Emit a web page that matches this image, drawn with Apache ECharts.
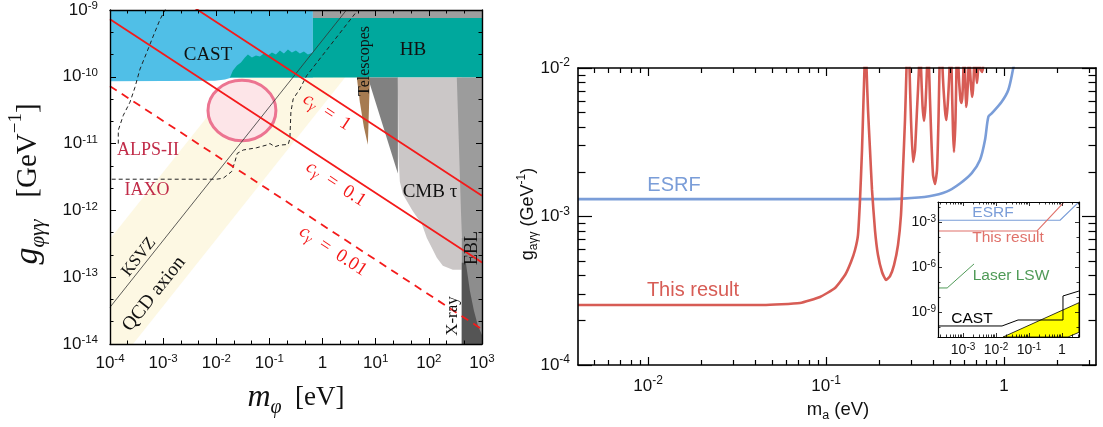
<!DOCTYPE html>
<html>
<head>
<meta charset="utf-8">
<title>Photon coupling limits</title>
<script src="https://cdn.jsdelivr.net/npm/echarts@6.0.0/dist/echarts.min.js"></script>
<style>
  html, body { margin: 0; padding: 0; background: #ffffff; }
  #chart { width: 1103px; height: 427px; }
</style>
</head>
<body>
<div id="chart"></div>
<script>
// ---------- Left panel: values are log10 exponents [log10(m/eV), log10(g/GeV^-1)] ----------
const leftMassTicks = [-4, -3, -2, -1, 0, 1, 2, 3];
const leftCouplingTicks = [-14, -13, -12, -11, -10, -9];

const qcdBand = [[-4, -14], [-3.567, -14], [1.433, -9], [-0.57, -9], [-4, -12.43]];
const ksvzLine = [[-4, -13.45], [0.45, -9]];
const castRegion = [[-4, -9], [-0.182, -9], [-0.182, -10.009], [-1.705, -10.009], [-1.837, -10.039], [-2.025, -10.061], [-4, -10.068]];
const hbRegion = [[-1.743, -10.009], [-1.687, -9.905], [-1.611, -9.831], [-1.536, -9.786], [-1.461, -9.712], [-1.405, -9.668],
  [-1.329, -9.712], [-1.254, -9.682], [-1.179, -9.697], [-1.104, -9.653], [-1.028, -9.682], [-0.953, -9.638], [-0.878, -9.668],
  [-0.803, -9.608], [-0.727, -9.653], [-0.652, -9.593], [-0.577, -9.638], [-0.502, -9.608], [-0.427, -9.653], [-0.351, -9.623],
  [-0.276, -9.668], [-0.182, -9.638], [-0.182, -9.119], [3, -9.119], [3, -10.009]];
const upperGrayRegion = [[-0.182, -9], [3, -9], [3, -9.119], [-0.182, -9.119]];
const telescopeRegion = [[0.645, -10.009], [0.89, -10.009], [0.871, -10.528], [0.852, -11.018], [0.777, -10.751], [0.702, -10.38]];
const darkWedgeRegion = [[0.852, -10.009], [1.417, -10.009], [1.417, -11.448]];
const cmbRegion = [[1.417, -10.009], [2.62, -10.009], [2.62, -12.887], [2.451, -12.887], [2.263, -12.828], [2.15, -12.709],
  [2.056, -12.561], [1.962, -12.412], [1.868, -12.205], [1.699, -12.012], [1.511, -11.76], [1.454, -11.567], [1.43, -11.2]];
const edgeStripRegion = [[2.526, -10.009], [3, -10.009], [3, -14], [2.62, -14], [2.62, -12.412]];
const eblRegion = [[2.62, -12.412], [3, -12.412], [3, -14], [2.62, -14]];
const xrayRegion = [[2.62, -12.783], [2.696, -12.783], [2.771, -13.199], [2.846, -13.496], [2.921, -13.718], [3, -13.866], [3, -14], [2.62, -14]];
const alpsCurve = [[-3.844, -11.0], [-3.844, -10.8], [-3.75, -10.577], [-3.624, -10.38], [-3.53, -10.157], [-3.436, -9.886],
  [-3.31, -9.638], [-3.186, -9.39], [-3.06, -9.144], [-2.95, -8.98]];
const iaxoCurve = [[-3.968, -11.533], [-1.993, -11.533], [-1.869, -11.518], [-1.711, -11.418], [-1.649, -11.27], [-1.606, -11.147],
  [-1.493, -11.096], [-1.241, -11.062], [-1.053, -11.022], [-0.991, -10.999], [-0.897, -11.047], [-0.803, -11.022], [-0.647, -11.013],
  [-0.615, -10.924], [-0.596, -10.528], [-0.553, -10.331], [-0.427, -10.183], [-0.3, -9.984], [0.664, -9.0]];
const cGammaOne = [[-4, -8.14], [3, -11.78]];
const cGammaTenth = [[-4, -9.14], [3, -12.78]];
const cGammaHundredth = [[-4, -10.14], [3, -13.78]];
const circleCenter = [-1.517, -10.506];
const circleRadius = [0.639, 0.4525];

// ---------- Right panel: values [m (eV), g (GeV^-1)] ----------
const rightMassTicks = [-2, -1, 0];
const rightCouplingTicks = [-4, -3, -2];
const esrfLimit = [[0.00404, 1.31e-3], [0.2, 1.31e-3], [0.27, 1.32e-3], [0.38, 1.37e-3], [0.476, 1.47e-3], [0.566, 1.67e-3],
  [0.659, 1.96e-3], [0.733, 2.40e-3], [0.782, 3.27e-3], [0.817, 4.70e-3], [0.853, 4.95e-3], [0.971, 5.93e-3],
  [1.057, 7.11e-3], [1.128, 1.0e-2], [1.2, 1.4e-2]];
const thisResult = [[0.00404, 2.535e-4], [0.0196, 2.535e-4], [0.0443, 2.535e-4], [0.0714, 2.615e-4], [0.0925, 2.87e-4],
  [0.1123, 3.30e-4], [0.1279, 4.035e-4], [0.1381, 4.94e-4], [0.1455, 5.95e-4], [0.1512, 7.50e-4], [0.1552, 1.29e-3],
  [0.1593, 2.80e-3], [0.1624, 6.09e-3], [0.1645, 1.0e-2], [0.1667, 3e-2], [0.1689, 1.0e-2], [0.1722, 5.21e-3],
  [0.1767, 2.80e-3], [0.1813, 1.51e-3], [0.1884, 8.11e-4], [0.1959, 5.50e-4], [0.2064, 4.23e-4], [0.2174, 3.735e-4],
  [0.2289, 3.97e-4], [0.2410, 4.71e-4], [0.2538, 6.43e-4], [0.2637, 1.02e-3], [0.2707, 2.06e-3], [0.2778, 4.46e-3],
  [0.2833, 1e-2], [0.2888, 3e-2], [0.2945, 1e-2], [0.3003, 4.46e-3], [0.3082, 2.33e-3], [0.3162, 2.80e-3], [0.3245, 5.21e-3],
  [0.3330, 1e-2], [0.3374, 3e-2], [0.3418, 1e-2], [0.3484, 5.63e-3], [0.3553, 4.40e-3], [0.3622, 5.63e-3], [0.3693, 1e-2],
  [0.3741, 3e-2], [0.3791, 1e-2], [0.3890, 3.82e-3], [0.3992, 1.90e-3], [0.4097, 1.655e-3], [0.4204, 2.06e-3],
  [0.4285, 4.46e-3], [0.4341, 1e-2], [0.4427, 3e-2], [0.4514, 1e-2], [0.4661, 5.21e-3], [0.4753, 4.46e-3],
  [0.4846, 6.09e-3], [0.4941, 1e-2], [0.5005, 3e-2], [0.5071, 1e-2], [0.5169, 3.82e-3], [0.5236, 2.72e-3],
  [0.5339, 4.46e-3], [0.5408, 1e-2], [0.5479, 3e-2], [0.5550, 1e-2], [0.5695, 6.09e-3], [0.5769, 5.81e-3],
  [0.5844, 6.58e-3], [0.5920, 1e-2], [0.5998, 3e-2], [0.6036, 1e-2], [0.6115, 5.46e-3], [0.6193, 6.09e-3],
  [0.6315, 1e-2], [0.6356, 3e-2], [0.6441, 1e-2], [0.6609, 6.38e-3], [0.6695, 7.11e-3], [0.6784, 1e-2], [0.6871, 3e-2],
  [0.6961, 1e-2], [0.7051, 7.93e-3], [0.7143, 1e-2], [0.7238, 3e-2], [0.7330, 1e-2], [0.7522, 9.4e-3], [0.7620, 1e-2],
  [0.7720, 3e-2]];

// ---------- Inset: values [m (eV), g (GeV^-1)] ----------
const insetMassTicks = [-3, -2, -1, 0];
const insetCouplingTicks = [-9, -6, -3];
const insetEsrf = [[1.74e-4, 1.31e-3], [0.87, 1.31e-3], [3.27, 2.2e-2]];
const insetResult = [[1.74e-4, 2.53e-4], [0.175, 2.53e-4], [1.15, 2.15e-2]];
const insetLaserLsw = [[1.74e-4, 4e-8], [3.3e-4, 4e-8], [2.15e-3, 1.6e-6]];
const insetCast = [[1.74e-4, 1.17e-10], [0.0152, 1.17e-10], [0.0464, 2.93e-10], [1.07, 2.93e-10], [1.07, 1.17e-8], [3.27, 2.5e-8]];
const insetAxionBand = [[0.0163, 2.15e-11], [3.27, 4.17e-9], [3.27, 4.43e-11], [1.52, 2.15e-11]];

// ---------- helpers ----------
const serif = "'Liberation Serif','DejaVu Serif',serif";
const sans = "'Liberation Sans','DejaVu Sans',sans-serif";
const toLog = pts => pts.map(([m, g]) => [Math.log10(m), Math.log10(g)]);

function thirds(lo, hi) {
  const out = [];
  for (let d = Math.floor(lo); d < hi; d++) [1 / 3, 2 / 3].forEach(f => { const v = d + f; if (v > lo && v < hi) out.push(v); });
  return out;
}
function logMinor(lo, hi) {
  const out = [];
  for (let d = Math.floor(lo); d < hi; d++) for (let k = 2; k < 10; k++) { const v = d + Math.log10(k); if (v > lo && v < hi) out.push(v); }
  return out;
}
function otherDecades(lo, hi, majors) {
  const out = [];
  for (let d = Math.ceil(lo); d <= hi; d++) if (majors.indexOf(d) < 0) out.push(d);
  return out;
}
const powLabel = v => (v === 0 ? '{b|1}' : '{b|10}{s|' + v + '}');

// four axes per dimension: labelled major + minor on the main side, major + minor mirrored
function axisSet(grid, min, max, majors, minors, o) {
  const list = [];
  o.pos.forEach((p, i) => {
    list.push({
      type: 'value', gridIndex: grid, position: p, min, max, z: 10,
      axisLine: { show: true, onZero: false, lineStyle: { color: '#000', width: o.lineWidth } },
      axisTick: { show: true, inside: true, length: o.majorLen, customValues: majors, lineStyle: { color: '#000', width: o.tickWidth } },
      axisLabel: i === 0 ? {
        show: true, customValues: majors, formatter: powLabel, margin: o.margin,
        showMinLabel: true, showMaxLabel: true, rich: o.rich
      } : { show: false },
      splitLine: { show: false }
    });
    list.push({
      type: 'value', gridIndex: grid, position: p, min, max, z: 10,
      axisLine: { show: false, onZero: false },
      axisTick: { show: true, inside: true, length: o.minorLen, customValues: minors, lineStyle: { color: '#000', width: o.tickWidth } },
      axisLabel: { show: false },
      splitLine: { show: false }
    });
  });
  return list;
}

const richLeft = {
  b: { fontFamily: sans, fontSize: 17, lineHeight: 20, color: '#111' },
  s: { fontFamily: sans, fontSize: 11.5, lineHeight: 8, verticalAlign: 'top', color: '#111' }
};
const richRight = {
  b: { fontFamily: sans, fontSize: 17, lineHeight: 22, color: '#111' },
  s: { fontFamily: sans, fontSize: 12, lineHeight: 9, verticalAlign: 'top', color: '#111' }
};
const richInset = {
  b: { fontFamily: sans, fontSize: 14, lineHeight: 16, color: '#111' },
  s: { fontFamily: sans, fontSize: 10, lineHeight: 7, verticalAlign: 'top', color: '#111' }
};

// ranges
const LX = [-4, 3], LY = [-14, -9];
const RX = [Math.log10(0.00404), 0.517], RY = [-4, -2];
const IX = [-3.76, 0.515], IY = [-10.667, -1.667];

const xAxes = [].concat(
  axisSet(0, LX[0], LX[1], leftMassTicks, thirds(LX[0], LX[1]), { pos: ['bottom', 'top'], lineWidth: 1.4, tickWidth: 1, majorLen: 6, minorLen: 3.5, margin: 9, rich: richLeft }),
  axisSet(1, RX[0], RX[1], rightMassTicks, logMinor(RX[0], RX[1]), { pos: ['bottom', 'top'], lineWidth: 1.6, tickWidth: 1.2, majorLen: 8, minorLen: 5, margin: 10, rich: richRight }),
  axisSet(2, IX[0], IX[1], insetMassTicks, logMinor(IX[0], IX[1]), { pos: ['bottom', 'top'], lineWidth: 1.2, tickWidth: 0.8, majorLen: 4, minorLen: 2.5, margin: 5, rich: richInset })
);
const yAxes = [].concat(
  axisSet(0, LY[0], LY[1], leftCouplingTicks, thirds(LY[0], LY[1]), { pos: ['left', 'right'], lineWidth: 1.4, tickWidth: 1, majorLen: 6, minorLen: 3.5, margin: 12, rich: richLeft }),
  axisSet(1, RY[0], RY[1], rightCouplingTicks, logMinor(RY[0], RY[1]), { pos: ['left', 'right'], lineWidth: 1.6, tickWidth: 1.2, majorLen: 14, minorLen: 7.5, margin: 8, rich: richRight }),
  axisSet(2, IY[0], IY[1], insetCouplingTicks, otherDecades(IY[0], IY[1], insetCouplingTicks), { pos: ['left', 'right'], lineWidth: 1.2, tickWidth: 0.8, majorLen: 4, minorLen: 2.5, margin: 2, rich: richInset })
);

const L = { x: 0, y: 0 }, R = { x: 4, y: 4 }, I = { x: 8, y: 8 };

function area(panel, pts, fill, stroke, strokeWidth, z) {
  return {
    type: 'custom', xAxisIndex: panel.x, yAxisIndex: panel.y, silent: true, clip: true, z: z || 2,
    data: [pts[0]],
    renderItem: (p, api) => ({
      type: 'polygon',
      shape: { points: pts.map(q => api.coord(q)) },
      style: { fill, stroke: stroke || null, lineWidth: strokeWidth || 0 }
    })
  };
}
function curve(panel, pts, color, width, dash, smooth, z) {
  return {
    type: 'line', xAxisIndex: panel.x, yAxisIndex: panel.y, data: pts, symbol: 'none', showSymbol: false,
    silent: true, clip: true, smooth: smooth || false, z: z || 2,
    lineStyle: { color, width, type: dash || 'solid', cap: 'butt' }
  };
}

const series = [
  // left panel, back to front
  area(L, qcdBand, '#fdf8e3'),
  {
    type: 'custom', xAxisIndex: 0, yAxisIndex: 0, silent: true,
    data: [circleCenter],
    renderItem: (p, api) => {
      const c = api.coord([api.value(0), api.value(1)]);
      const s = api.size(circleRadius);
      return { type: 'ellipse', shape: { cx: c[0], cy: c[1], rx: s[0], ry: s[1] },
        style: { fill: '#fde5e8', stroke: '#ec7491', lineWidth: 3 } };
    }
  },
  area(L, castRegion, '#50bfe7'),
  area(L, hbRegion, '#00a89d'),
  area(L, upperGrayRegion, '#9e9e9e'),
  area(L, darkWedgeRegion, '#818181'),
  area(L, cmbRegion, '#cbc7c7'),
  area(L, edgeStripRegion, '#9c9c9c'),
  area(L, eblRegion, '#8d8d8d'),
  area(L, xrayRegion, '#555555'),
  area(L, telescopeRegion, '#a67b51'),
  curve(L, ksvzLine, '#333333', 0.8),
  curve(L, alpsCurve, '#222222', 1, [4, 3]),
  curve(L, iaxoCurve, '#222222', 1, [4, 3]),
  curve(L, cGammaOne, '#f41a1a', 1.8),
  curve(L, cGammaTenth, '#f41a1a', 1.8),
  curve(L, cGammaHundredth, '#f41a1a', 1.8, [8, 6]),
  // right panel
  curve(R, toLog(esrfLimit), '#7a9dd8', 2.6, null, 0.3),
  curve(R, toLog(thisResult), '#d75c55', 2.6, null, 0.15),
  // inset
  area(I, toLog(insetAxionBand), '#ffff00', '#000', 0.8, 4),
  curve(I, toLog(insetEsrf), '#7a9dd8', 1.1, null, false, 4),
  curve(I, toLog(insetResult), '#e0716a', 1.1, null, false, 4),
  curve(I, toLog(insetLaserLsw), '#4f9a57', 1.0, null, false, 4),
  curve(I, toLog(insetCast), '#000000', 1.0, null, false, 4)
];

function text(x, y, content, font, fill, rotDeg, rich) {
  return {
    type: 'text', x, y, rotation: (rotDeg || 0) * Math.PI / 180, z: 60, silent: true,
    style: { text: content, font, fill, align: 'center', verticalAlign: 'middle',
      textAlign: 'center', textVerticalAlign: 'middle', rich: rich || undefined }
  };
}

const redC = '#f41a1a';
const cRich = {
  c: { fontFamily: serif, fontStyle: 'italic', fontSize: 19, lineHeight: 22, fill: redC, color: redC },
  s: { fontFamily: serif, fontStyle: 'italic', fontSize: 14, lineHeight: 12, verticalAlign: 'bottom', fill: redC, color: redC },
  n: { fontFamily: serif, fontSize: 19, lineHeight: 22, fill: redC, color: redC }
};
const slope = -33.4;

const graphics = [
  text(208, 55, 'CAST', '19px ' + serif, '#111'),
  text(413, 50, 'HB', '19px ' + serif, '#111'),
  text(365, 61, 'Telescopes', '16px ' + serif, '#111', 90),
  text(430, 192, 'CMB τ', '19px ' + serif, '#111'),
  text(472, 248, 'EBL', '18px ' + serif, '#111', 90),
  text(453, 316, 'X-ray', '17px ' + serif, '#111', 90),
  text(148, 150, 'ALPS-II', '18px ' + serif, '#c12b48'),
  text(147, 190, 'IAXO', '18px ' + serif, '#c12b48'),
  text(139, 257, 'KSVZ', '17px ' + serif, '#111', 51.7),
  text(154, 294, 'QCD axion', '19.5px ' + serif, '#111', 51.7),
  text(327, 112, '{c|c}{s|γ}{n|  =  1}', '19px ' + serif, redC, slope, cRich),
  text(336, 184, '{c|c}{s|γ}{n|  =  0.1}', '19px ' + serif, redC, slope, cRich),
  text(333, 251, '{c|c}{s|γ}{n|  =  0.01}', '19px ' + serif, redC, slope, cRich),
  // left axis titles
  text(28, 184, '{g|g}{sub|φγγ}{n|   [GeV}{sup|−1}{n|]}', '28px ' + serif, '#111', 90, {
    g: { fontFamily: serif, fontStyle: 'italic', fontSize: 34, lineHeight: 42, fill: '#111' },
    sub: { fontFamily: serif, fontStyle: 'italic', fontSize: 21, lineHeight: 22, verticalAlign: 'bottom', fill: '#111' },
    n: { fontFamily: serif, fontSize: 29, lineHeight: 42, fill: '#111' },
    sup: { fontFamily: serif, fontSize: 19, lineHeight: 22, verticalAlign: 'top', fill: '#111' }
  }),
  text(296, 398, '{m|m}{sub|φ}{n|  [eV]}', '26px ' + serif, '#111', 0, {
    m: { fontFamily: serif, fontStyle: 'italic', fontSize: 32, lineHeight: 40, fill: '#111' },
    sub: { fontFamily: serif, fontStyle: 'italic', fontSize: 20, lineHeight: 22, verticalAlign: 'bottom', fill: '#111' },
    n: { fontFamily: serif, fontSize: 27, lineHeight: 40, fill: '#111' }
  }),
  // right panel
  text(674, 185, 'ESRF', '20px ' + sans, '#7a9dd8'),
  text(693, 290, 'This result', '20px ' + sans, '#d75c55'),
  text(528, 214, '{t|g}{sub|aγγ}{t| (GeV}{sup|-1}{t|)}', '18px ' + sans, '#111', 90, {
    t: { fontFamily: sans, fontSize: 18, lineHeight: 24, fill: '#111' },
    sub: { fontFamily: sans, fontSize: 12, lineHeight: 11, verticalAlign: 'bottom', fill: '#111' },
    sup: { fontFamily: sans, fontSize: 12, lineHeight: 11, verticalAlign: 'top', fill: '#111' }
  }),
  text(838, 410, '{t|m}{sub|a}{t| (eV)}', '18px ' + sans, '#111', 0, {
    t: { fontFamily: sans, fontSize: 18.5, lineHeight: 24, fill: '#111' },
    sub: { fontFamily: sans, fontSize: 12.5, lineHeight: 11, verticalAlign: 'bottom', fill: '#111' }
  }),
  // inset labels
  text(993, 213, 'ESRF', '15.5px ' + sans, '#7a9dd8'),
  text(1008, 238, 'This result', '15.5px ' + sans, '#e0716a'),
  text(1011, 276, 'Laser LSW', '15.5px ' + sans, '#4f9a57'),
  text(972, 319, 'CAST', '15.5px ' + sans, '#000')
];

const chart = echarts.init(document.getElementById('chart'), null, { renderer: 'canvas' });
chart.setOption({
  animation: false,
  backgroundColor: '#ffffff',
  grid: [
    { left: 110, top: 7, width: 372, height: 337, containLabel: false },
    { left: 578, top: 68, width: 518, height: 297, containLabel: false },
    { left: 938, top: 202, width: 141, height: 135, containLabel: false, show: true, backgroundColor: '#ffffff', borderWidth: 0 }
  ],
  xAxis: xAxes,
  yAxis: yAxes,
  series,
  graphic: graphics
});
</script>
</body>
</html>
